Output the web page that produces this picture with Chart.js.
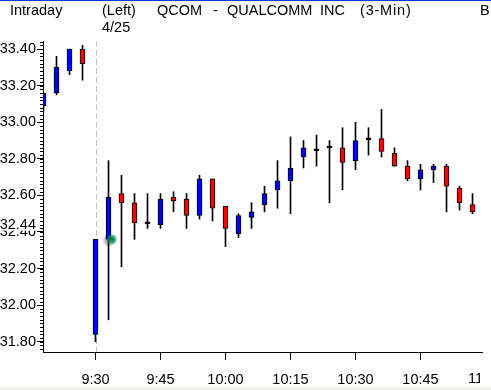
<!DOCTYPE html>
<html>
<head>
<meta charset="utf-8">
<script src="https://cdn.jsdelivr.net/npm/chart.js@4.4.1/dist/chart.umd.min.js"></script>
<style>
  html, body { margin: 0; padding: 0; background: #fff; overflow: hidden; }
  #wrap { position: relative; width: 491px; height: 390px; }
  #wrap canvas { position: absolute; left: 0; top: 0; }
  .t { position: absolute; font-size: 14.5px; font-family: 'Liberation Sans', Arial, sans-serif; line-height: 16px; color: #000; white-space: pre; }
  .topline { position: absolute; left: 0; top: 0; width: 491px; height: 1px; background: #0a3cd0; }
  .foot { position: absolute; left: 0; top: 387px; width: 491px; height: 3px; background: #efefec; }
</style>
</head>
<body>
<div id="wrap">
  <canvas id="c" width="491" height="390"></canvas>
  <div class="topline"></div>
  <div class="t" style="left:10px;top:2px">Intraday</div>
  <div class="t" style="left:102px;top:2px">(Left)</div>
  <div class="t" style="left:102px;top:19px">4/25</div>
  <div class="t" style="left:157px;top:2px">QCOM</div>
  <div class="t" style="left:213px;top:2px">-</div>
  <div class="t" style="left:227px;top:2px">QUALCOMM</div>
  <div class="t" style="left:320px;top:2px">INC</div>
  <div class="t" style="left:360px;top:2px;letter-spacing:0.8px">(3-Min)</div>
  <div class="t" style="left:480px;top:2px">B.</div>
  <div class="foot"></div>
</div>
<script>
// bar index: 0 = 9:30 on 4/25, negatives are the previous session
const barIdx = [-4, -3, -2, -1, 0, 1, 2, 3, 4, 5, 6, 7, 8, 9, 10, 11, 12, 13, 14, 15, 16, 17, 18, 19, 20, 21, 22, 23, 24, 25, 26, 27, 28, 29];
const opens  = [33.09, 33.16, 33.28, 33.40, 31.84, 32.36, 32.61, 32.56, 32.45, 32.44, 32.59, 32.58, 32.49, 32.69, 32.54, 32.39, 32.48, 32.55, 32.63, 32.68, 32.81, 32.85, 32.87, 32.86, 32.79, 32.91, 32.91, 32.83, 32.76, 32.69, 32.74, 32.76, 32.64, 32.55];
const highs  = [33.16, 33.36, 33.40, 33.42, 32.36, 32.79, 32.71, 32.61, 32.61, 32.61, 32.62, 32.61, 32.71, 32.69, 32.54, 32.50, 32.56, 32.65, 32.79, 32.92, 32.90, 32.93, 32.90, 32.97, 33.00, 32.97, 33.07, 32.86, 32.79, 32.77, 32.77, 32.77, 32.65, 32.61];
const lows   = [33.06, 33.15, 33.26, 33.23, 31.80, 31.92, 32.21, 32.36, 32.42, 32.42, 32.51, 32.42, 32.47, 32.46, 32.32, 32.37, 32.42, 32.51, 32.53, 32.50, 32.75, 32.76, 32.56, 32.63, 32.74, 32.82, 32.81, 32.76, 32.68, 32.63, 32.67, 32.51, 32.52, 32.50];
const closes = [33.16, 33.30, 33.40, 33.32, 32.36, 32.59, 32.56, 32.45, 32.45, 32.58, 32.57, 32.49, 32.69, 32.53, 32.42, 32.49, 32.51, 32.61, 32.68, 32.75, 32.86, 32.85, 32.86, 32.78, 32.90, 32.91, 32.84, 32.76, 32.69, 32.74, 32.76, 32.65, 32.56, 32.51];

const xTickIdx = [0, 5, 10, 15, 20, 25, 30];
const xTickLabels = ['9:30', '9:45', '10:00', '10:15', '10:30', '10:45', '11:00'];
const yTicks = [31.8, 32.0, 32.2, 32.4, 32.6, 32.8, 33.0, 33.2, 33.4];
const markerPrice = 32.44;

const FONT = "'Liberation Sans', Arial, sans-serif";
const FSIZE = 14.5;
const UP = '#0000ff';
const DOWN = '#ff0000';

const isDoji = i => Math.abs(opens[i] - closes[i]) < 0.015;

const bodies = barIdx.map((x, i) => {
  let lo = Math.min(opens[i], closes[i]);
  let hi = Math.max(opens[i], closes[i]);
  if (isDoji(i)) { const m = (lo + hi) / 2; lo = m - 0.005; hi = m + 0.005; }
  return { x, y: [lo, hi] };
});
const bodyColors = barIdx.map((x, i) => isDoji(i) ? '#000' : (closes[i] >= opens[i] ? UP : DOWN));
const wicks = barIdx.map((x, i) => ({ x, y: [lows[i], highs[i]] }));

const extras = {
  id: 'extras',
  beforeDatasetsDraw(chart) {
    const { ctx, chartArea, scales } = chart;
    // day separator
    const sx = Math.round(scales.x.getPixelForValue(0)) + 0.5;
    ctx.save();
    ctx.strokeStyle = '#c4c4c4';
    ctx.lineWidth = 1;
    ctx.setLineDash([6, 3]);
    ctx.beginPath();
    ctx.moveTo(sx, chartArea.top);
    ctx.lineTo(sx, chartArea.bottom);
    ctx.stroke();
    ctx.restore();
  },
  afterDraw(chart) {
    const { ctx, chartArea, scales } = chart;
    const y = scales.y;
    ctx.save();
    // minor ticks every 0.02
    ctx.strokeStyle = '#000';
    ctx.lineWidth = 1;
    ctx.beginPath();
    for (let k = Math.ceil(y.min * 50); k <= Math.floor(y.max * 50); k++) {
      const py = Math.round(y.getPixelForValue(k / 50)) + 0.5;
      ctx.moveTo(chartArea.left - 3, py);
      ctx.lineTo(chartArea.left, py);
    }
    ctx.stroke();

    // last price marker label
    const my = y.getPixelForValue(markerPrice);
    ctx.fillStyle = '#fff';
    ctx.fillRect(0, my - 6, 37, 12);
    ctx.fillStyle = '#000';
    ctx.font = FSIZE + 'px ' + FONT;
    ctx.textAlign = 'right';
    ctx.textBaseline = 'middle';
    ctx.fillText(markerPrice.toFixed(2), 36, my);

    // 11:00 label, clipped at the right edge as in the source
    const lx = scales.x.getPixelForValue(xTickIdx[6]);
    ctx.save();
    ctx.beginPath();
    ctx.rect(0, chartArea.bottom, 480, 40);
    ctx.clip();
    ctx.textAlign = 'center';
    ctx.fillText(xTickLabels[6], lx, 379);
    ctx.restore();

    // cursor glow
    const gx = scales.x.getPixelForValue(1) + 3.5;
    const gy = y.getPixelForValue(32.36);
    const sh = ctx.createRadialGradient(gx - 3, gy + 1, 0, gx - 3, gy + 1, 7);
    sh.addColorStop(0, 'rgba(0,0,0,0.55)');
    sh.addColorStop(1, 'rgba(0,0,0,0)');
    ctx.fillStyle = sh;
    ctx.beginPath(); ctx.arc(gx - 3, gy + 1, 7, 0, Math.PI * 2); ctx.fill();
    const g = ctx.createRadialGradient(gx, gy, 0, gx, gy, 6);
    g.addColorStop(0, 'rgba(0,110,60,1)');
    g.addColorStop(0.5, 'rgba(20,150,90,0.8)');
    g.addColorStop(1, 'rgba(60,190,130,0)');
    ctx.fillStyle = g;
    ctx.beginPath(); ctx.arc(gx, gy, 6, 0, Math.PI * 2); ctx.fill();
    ctx.restore();
  }
};

new Chart(document.getElementById('c'), {
  type: 'bar',
  data: {
    datasets: [
      {
        data: bodies,
        backgroundColor: bodyColors,
        borderColor: '#000',
        borderWidth: 1,
        borderSkipped: false,
        barThickness: 5,
        grouped: false,
      },
      {
        data: wicks,
        backgroundColor: '#000',
        borderWidth: 0,
        barThickness: 1,
        grouped: false,
      },
    ],
  },
  options: {
    responsive: false,
    animation: false,
    events: [],
    layout: { padding: { top: 41, right: 9, left: 0, bottom: 0 } },
    plugins: { legend: { display: false }, tooltip: { enabled: false } },
    scales: {
      x: {
        type: 'linear',
        offset: false,
        min: (43 - 95.5) / 13,
        max: (482 - 95.5) / 13,
        afterBuildTicks(scale) { scale.ticks = xTickIdx.filter(v => v <= scale.max).map(v => ({ value: v })); },
        afterFit(scale) { scale.height = 38; scale.paddingLeft = 0; scale.paddingRight = 0; },
        ticks: {
          autoSkip: false,
          maxRotation: 0,
          padding: 11,
          color: '#000',
          font: { family: FONT, size: FSIZE },
          callback: v => xTickLabels[xTickIdx.indexOf(v)],
        },
        grid: { offset: false, drawOnChartArea: false, drawTicks: true, tickLength: 8, color: '#000' },
        border: { display: true, color: '#000', width: 1 },
      },
      y: {
        min: 31.744,
        max: 33.444,
        afterBuildTicks(scale) { scale.ticks = yTicks.map(v => ({ value: v })); },
        afterFit(scale) { scale.width = 43; scale.paddingTop = 0; scale.paddingBottom = 0; },
        ticks: {
          padding: 1,
          color: '#000',
          font: { family: FONT, size: FSIZE },
          callback: v => v.toFixed(2),
        },
        grid: { drawOnChartArea: false, drawTicks: true, tickLength: 6, color: '#000' },
        border: { display: true, color: '#000', width: 1 },
      },
    },
  },
  plugins: [extras],
});
</script>
</body>
</html>
